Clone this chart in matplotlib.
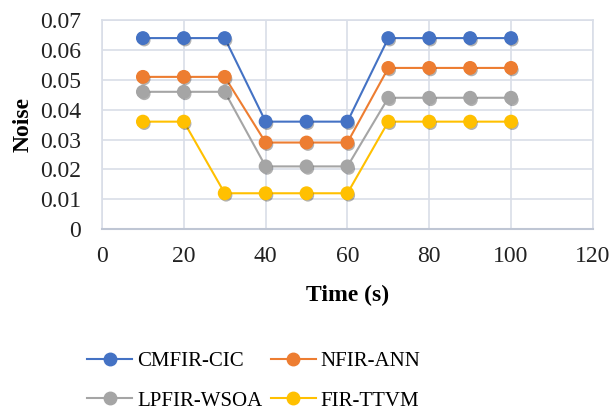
"""
Noise over time for four FIR filter designs
"""

import matplotlib.pyplot as plt
import matplotlib.patheffects as pe
from matplotlib.lines import Line2D

time_s = [10, 20, 30, 40, 50, 60, 70, 80, 90, 100]

cmfir_cic = [0.064, 0.064, 0.064, 0.036, 0.036, 0.036, 0.064, 0.064, 0.064, 0.064]
nfir_ann = [0.051, 0.051, 0.051, 0.029, 0.029, 0.029, 0.054, 0.054, 0.054, 0.054]
lpfir_wsoa = [0.046, 0.046, 0.046, 0.021, 0.021, 0.021, 0.044, 0.044, 0.044, 0.044]
fir_ttvm = [0.036, 0.036, 0.012, 0.012, 0.012, 0.012, 0.036, 0.036, 0.036, 0.036]

series_names = ["CMFIR-CIC", "NFIR-ANN", "LPFIR-WSOA", "FIR-TTVM"]
colors = ["#4472C4", "#ED7D31", "#A5A5A5", "#FFC000"]

x_ticks = [0, 20, 40, 60, 80, 100, 120]
y_ticks = [0, 0.01, 0.02, 0.03, 0.04, 0.05, 0.06, 0.07]
y_tick_labels = ["0", "0.01", "0.02", "0.03", "0.04", "0.05", "0.06", "0.07"]


def plot_noise():
    plt.rcParams["font.family"] = ["Liberation Serif", "DejaVu Serif"]

    fig = plt.figure(figsize=(6.12, 4.12), dpi=100)
    ax = fig.add_axes([0.1667, 0.444, 0.802, 0.507])

    shadow = [pe.SimplePatchShadow(offset=(1, -1.5), shadow_rgbFace="black", alpha=0.3),
              pe.Normal()]
    data = [cmfir_cic, nfir_ann, lpfir_wsoa, fir_ttvm]
    handles = []
    for values, name, color in zip(data, series_names, colors):
        # line first, then markers with a soft drop shadow on top
        ax.plot(time_s, values, color=color, linewidth=1.5, zorder=3)
        ax.plot(time_s, values, linestyle="none", marker="o", markersize=9,
                color=color, path_effects=shadow, zorder=4)
        handles.append(Line2D([], [], color=color, linewidth=1.5, marker="o",
                              markersize=9, label=name))

    ax.set_xlim(0, 120)
    ax.set_ylim(0, 0.07)
    ax.set_xticks(x_ticks)
    ax.set_yticks(y_ticks)
    ax.set_yticklabels(y_tick_labels)
    ax.tick_params(labelsize=17, length=0, colors="#222222")
    ax.tick_params(axis="y", pad=15)
    ax.tick_params(axis="x", pad=12)

    ax.grid(color="#D9DEE8", linewidth=1.2)
    ax.set_axisbelow(True)
    for side in ["left", "top", "right"]:
        ax.spines[side].set_color("#D9DEE8")
        ax.spines[side].set_linewidth(1.2)
    ax.spines["bottom"].set_color("#BFC6D4")
    ax.spines["bottom"].set_linewidth(1.5)

    ax.set_xlabel("Time (s)", fontsize=17, fontweight="bold", labelpad=13)
    ax.set_ylabel("Noise", fontsize=17, fontweight="bold", labelpad=5)

    # two rows read left to right: matplotlib fills legend columns first
    order = [0, 2, 1, 3]
    fig.legend([handles[i] for i in order], [series_names[i] for i in order],
               loc="center", bbox_to_anchor=(0.415, 0.075), ncol=2,
               frameon=False, fontsize=15, handlelength=2.15, handletextpad=0.25,
               columnspacing=0.4, labelspacing=0.95)

    fig.savefig("out.png", dpi=100)


if __name__ == "__main__":
    plot_noise()
